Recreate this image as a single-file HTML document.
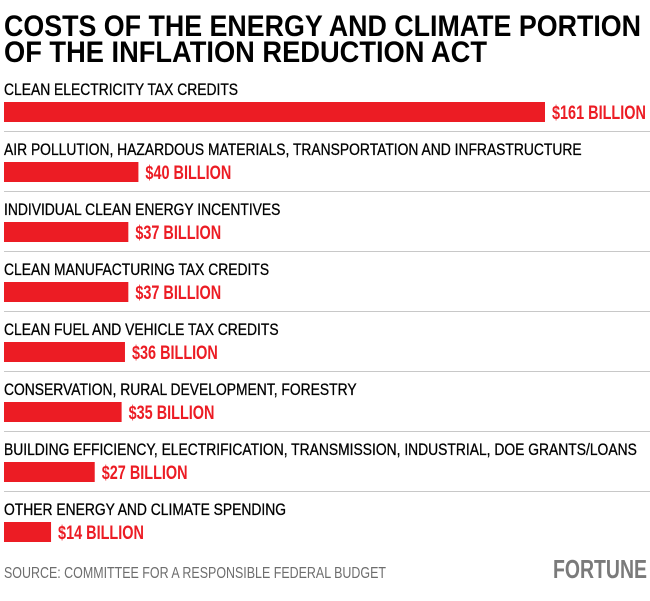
<!DOCTYPE html>
<html><head><meta charset="utf-8"><style>
html,body{margin:0;padding:0;background:#fff}
svg{display:block}
text{font-family:"Liberation Sans",sans-serif}
</style></head><body>
<svg id="chart" width="650" height="601" viewBox="0 0 650 601">
<text id="t1" x="4" y="36" font-size="30" font-weight="bold" fill="#000">COSTS OF THE ENERGY AND CLIMATE PORTION</text>
<text id="t2" x="4" y="62" font-size="30" font-weight="bold" fill="#000">OF THE INFLATION REDUCTION ACT</text>
<g id="rows"></g>
<text id="src" x="4" y="578" font-size="16" fill="#6d6d6d">SOURCE: COMMITTEE FOR A RESPONSIBLE FEDERAL BUDGET</text>
<text id="logo" x="553" y="578" font-size="26" font-weight="bold" fill="#7a7a7a">FORTUNE</text>
</svg>
<script>
const categories = [
 "CLEAN ELECTRICITY TAX CREDITS",
 "AIR POLLUTION, HAZARDOUS MATERIALS, TRANSPORTATION AND INFRASTRUCTURE",
 "INDIVIDUAL CLEAN ENERGY INCENTIVES",
 "CLEAN MANUFACTURING TAX CREDITS",
 "CLEAN FUEL AND VEHICLE TAX CREDITS",
 "CONSERVATION, RURAL DEVELOPMENT, FORESTRY",
 "BUILDING EFFICIENCY, ELECTRIFICATION, TRANSMISSION, INDUSTRIAL, DOE GRANTS/LOANS",
 "OTHER ENERGY AND CLIMATE SPENDING"
];
const values = [161, 40, 37, 37, 36, 35, 27, 14];
const valueLabels = ["$161 BILLION","$40 BILLION","$37 BILLION","$37 BILLION","$36 BILLION","$35 BILLION","$27 BILLION","$14 BILLION"];

const NS = "http://www.w3.org/2000/svg";
const x0 = 4, maxW = 541, maxV = 161;
function xScale(v){ return maxW * v / maxV; }
function rowY(i){ return 60 * i; }
function fit(el, w){ el.setAttribute('textLength', w); el.setAttribute('lengthAdjust','spacingAndGlyphs'); }
function squeeze(el, f){ const l = el.getComputedTextLength(); fit(el, l*f); return l*f; }

fit(document.getElementById('t1'), 637);
fit(document.getElementById('t2'), 483);
fit(document.getElementById('src'), 382);
fit(document.getElementById('logo'), 94);

const g = document.getElementById('rows');
categories.forEach((c, i) => {
  const y = rowY(i);
  const lab = document.createElementNS(NS, 'text');
  
  
  lab.setAttribute('x', x0); lab.setAttribute('y', 95 + y);
  lab.setAttribute('font-size', '17'); lab.setAttribute('fill', '#000');
  lab.setAttribute('stroke', '#000'); lab.setAttribute('stroke-width', '0.3');
  lab.textContent = c;
  g.appendChild(lab);
  squeeze(lab, 0.815);

  const w = xScale(values[i]);
  const bar = document.createElementNS(NS, 'rect');
  
  
  bar.setAttribute('x', x0); bar.setAttribute('y', 102 + y);
  bar.setAttribute('width', w); bar.setAttribute('height', 20);
  bar.setAttribute('fill', '#ec1c24');
  g.appendChild(bar);

  const vl = document.createElementNS(NS, 'text');
  
  
  vl.setAttribute('x', x0 + w + 7); vl.setAttribute('y', 119 + y);
  vl.setAttribute('font-size', '19'); vl.setAttribute('font-weight', 'bold');
  vl.setAttribute('fill', '#ec1c24');
  vl.textContent = valueLabels[i];
  g.appendChild(vl);
  squeeze(vl, 0.76);

  if (i < categories.length - 1) {
    const ln = document.createElementNS(NS, 'rect');
    
    
    ln.setAttribute('x', x0); ln.setAttribute('y', 131 + y);
    ln.setAttribute('width', 646); ln.setAttribute('height', 1);
    ln.setAttribute('fill', '#c8c8c8');
    g.appendChild(ln);
  }
});
</script>
</body></html>
